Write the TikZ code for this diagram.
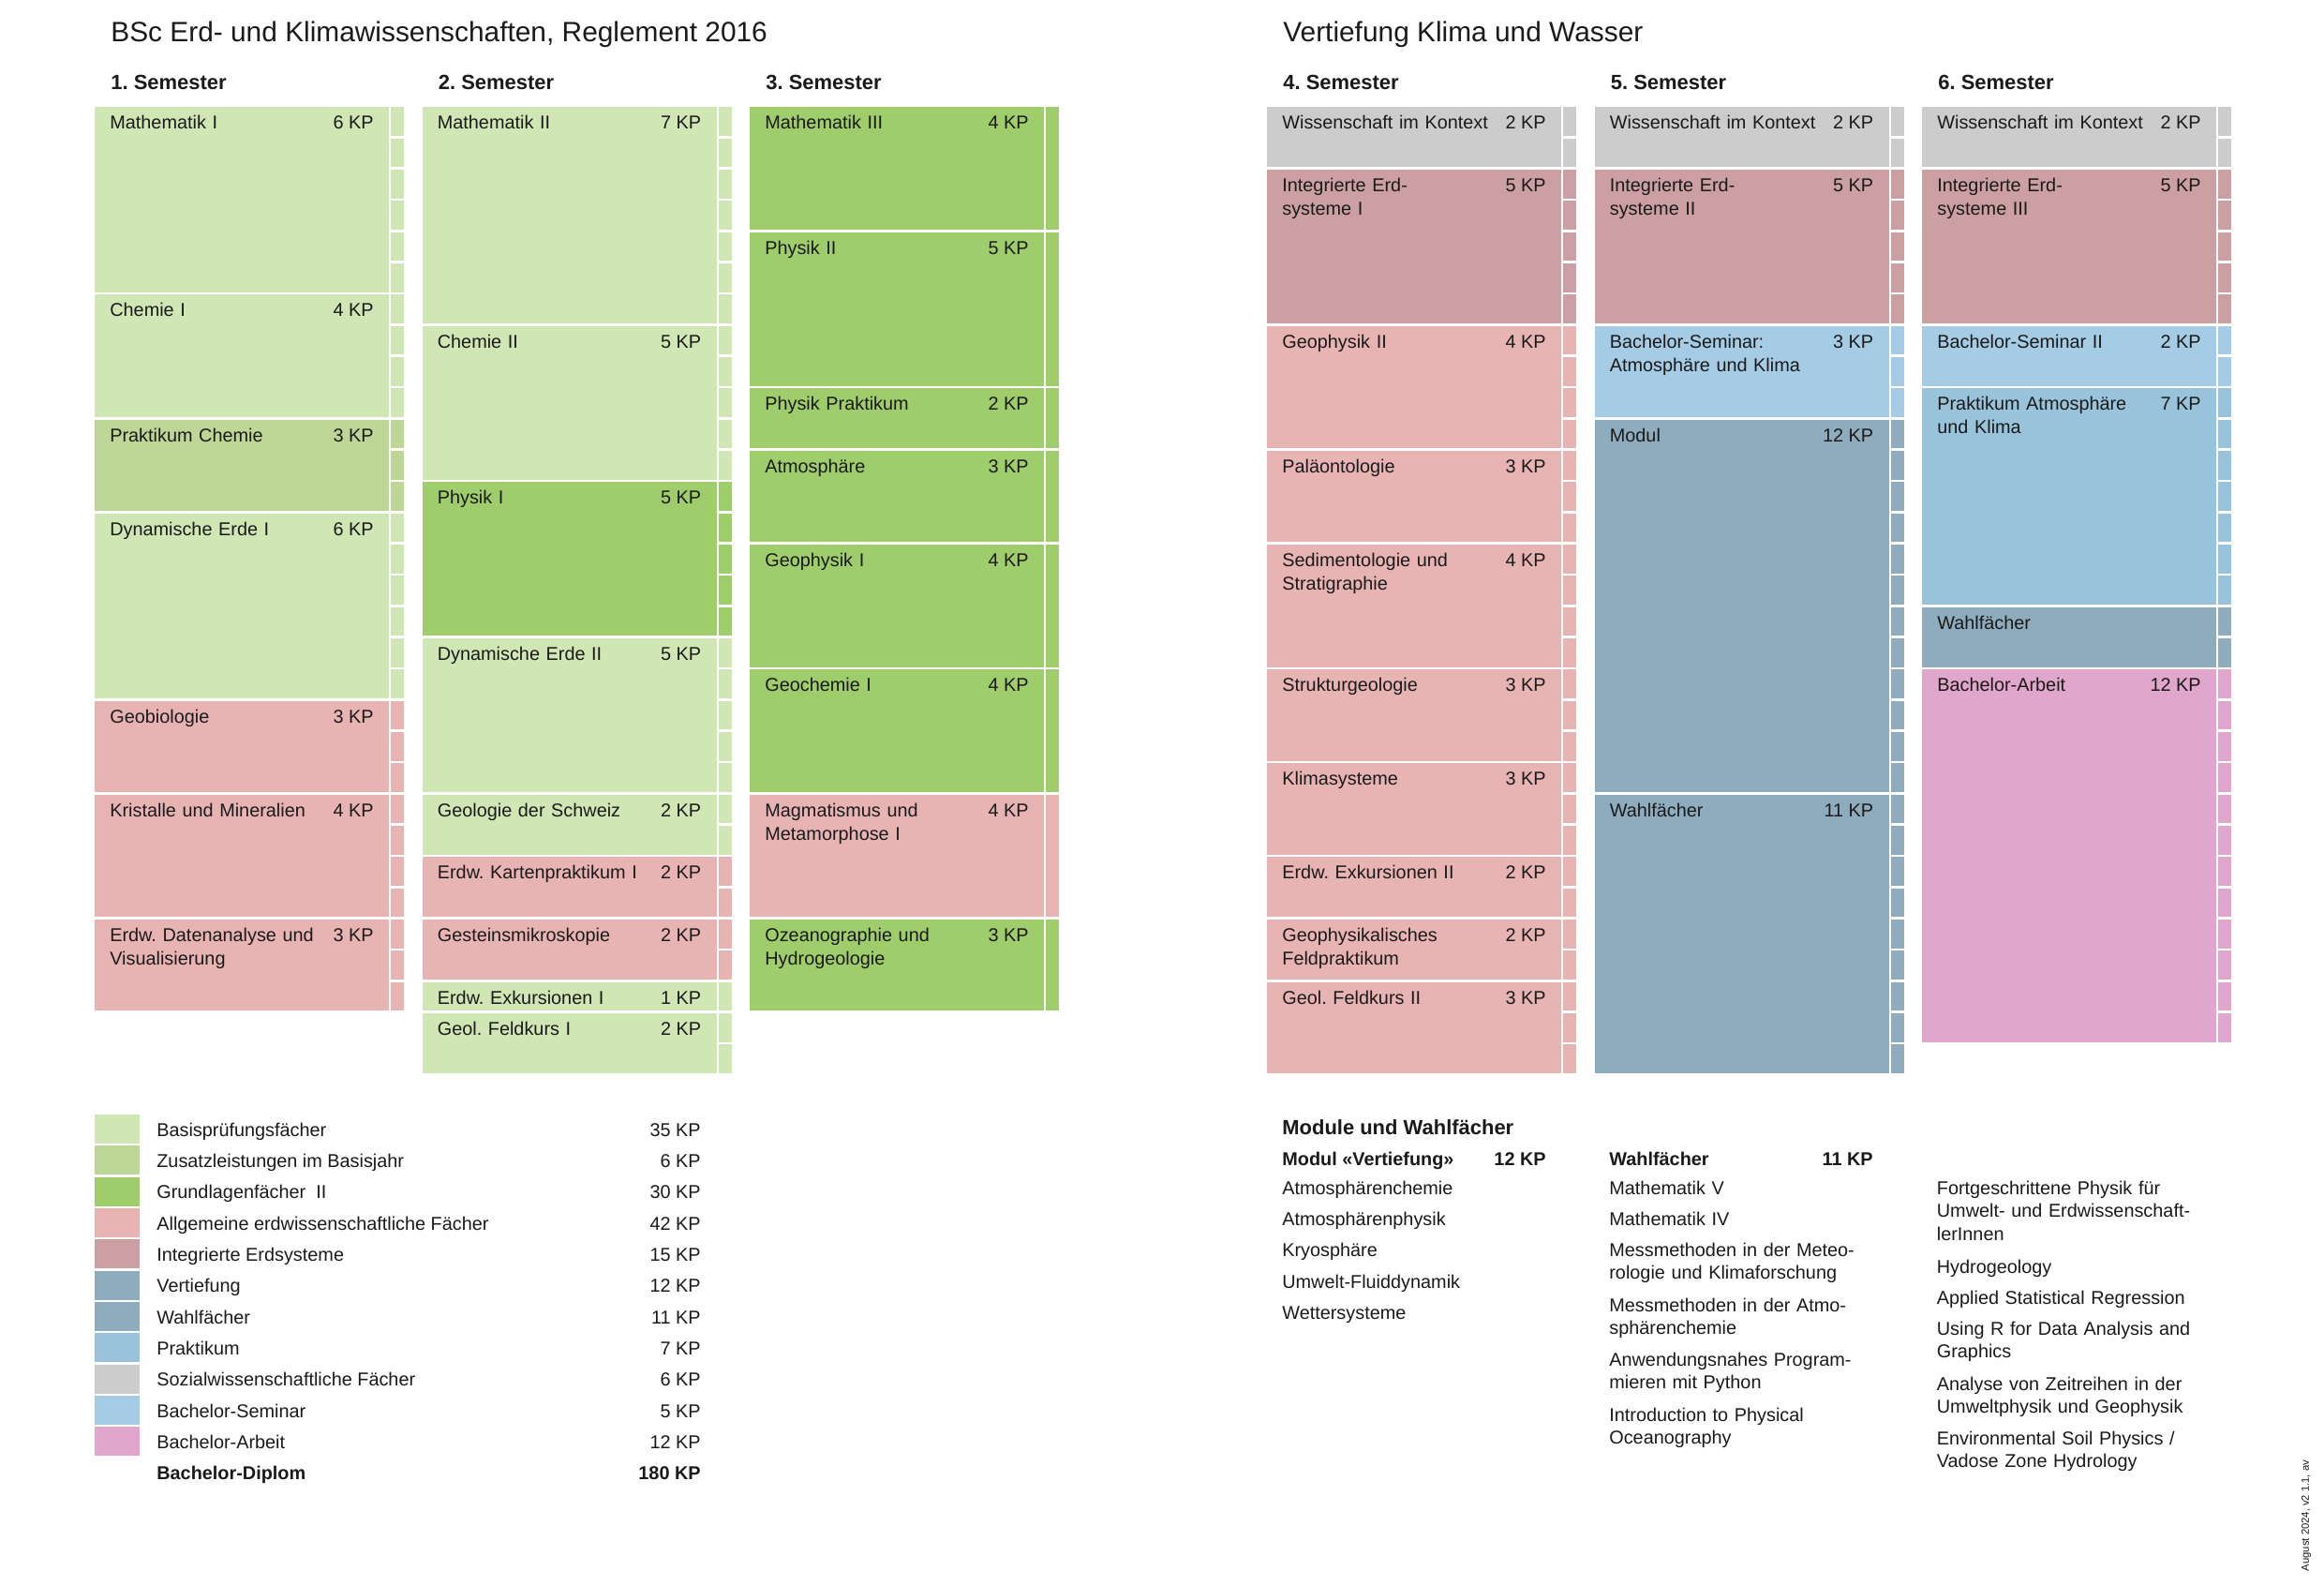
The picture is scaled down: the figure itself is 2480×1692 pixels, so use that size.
\documentclass[tikz,border=0pt]{standalone}
\usepackage{fontspec}
\setmainfont{Liberation Sans}
\definecolor{basis}{HTML}{D0E6B5}
\definecolor{zusatz}{HTML}{BDD696}
\definecolor{grund}{HTML}{A0CD6B}
\definecolor{allg}{HTML}{E8B4B3}
\definecolor{integ}{HTML}{CCA0A2}
\definecolor{vert}{HTML}{8EACBE}
\definecolor{prakt}{HTML}{99C3DA}
\definecolor{sozial}{HTML}{CCCCCC}
\definecolor{seminar}{HTML}{A6CBE4}
\definecolor{arbeit}{HTML}{E1A6CB}
\definecolor{ink}{HTML}{1A1A1A}
\newcommand{\semcol}[4]{%
  \foreach \h/\c/\lab/\kp [count=\n, remember=\yb as \yt (initially 113),
      evaluate=\h as \yb using \yt+\h*33.333] in {#4} {
    \fill[fill=\c] (#2,\yt+1.3) rectangle (#2+314,\yb-1.3);
    \node[lab,text width=5.2cm] (#1-\n) at (#2+16,\yt+25) {\lab};
    \node[kp] (#1-\n-kp) at (#2+298,\yt+25) {\kp};
    \ifnum#3=1
      \foreach \k in {1,...,\h}
        \fill[fill=\c] (#2+316,\yt+\k*33.333-32.033) rectangle (#2+330,\yt+\k*33.333-1.3);
    \else
      \fill[fill=\c] (#2+316,\yt+1.3) rectangle (#2+330,\yb-1.3);
    \fi
  }}
\begin{document}
\frenchspacing
\begin{tikzpicture}[x=0.02cm,y=-0.02cm]
  \tikzset{
    lab/.style={anchor=base west,inner sep=0pt,align=left,text=ink,
      font=\fontsize{11.3}{14.2}\selectfont},
    kp/.style={anchor=base east,inner sep=0pt,text=ink,
      font=\fontsize{11.3}{14.2}\selectfont},
    head/.style={anchor=base west,inner sep=0pt,text=ink,
      font=\fontsize{12.5}{15}\selectfont\bfseries},
    title/.style={anchor=base west,inner sep=0pt,text=ink,
      font=\fontsize{17}{20}\selectfont}
  }
  \fill[white] (0,0) rectangle (2480,1692);
  \useasboundingbox (0,0) rectangle (2480,1692);
  \node[title] (t1) at (118,45) {BSc Erd- und Klimawissenschaften, Reglement 2016};
  \node[title] (t2) at (1369,45) {Vertiefung Klima und Wasser};
  \foreach \x/\s in {101/1,450.5/2,800/3,1352/4,1701.5/5,2051/6}
    \node[head] (h\s) at (\x+17,96) {\s. Semester};

  \semcol{s1}{101}{1}{6/basis/Mathematik I/6 KP, 4/basis/Chemie I/4 KP,
    3/zusatz/Praktikum Chemie/3 KP, 6/basis/Dynamische Erde I/6 KP,
    3/allg/Geobiologie/3 KP, 4/allg/Kristalle und Mineralien/4 KP,
    3/allg/{Erdw. Datenanalyse und\\Visualisierung}/3 KP}
  \semcol{s2}{450.5}{1}{7/basis/Mathematik II/7 KP, 5/basis/Chemie II/5 KP,
    5/grund/Physik I/5 KP, 5/basis/Dynamische Erde II/5 KP,
    2/basis/Geologie der Schweiz/2 KP, 2/allg/Erdw. Kartenpraktikum I/2 KP,
    2/allg/Gesteinsmikroskopie/2 KP, 1/basis/Erdw. Exkursionen I/1 KP,
    2/basis/Geol. Feldkurs I/2 KP}
  \semcol{s3}{800}{0}{4/grund/Mathematik III/4 KP, 5/grund/Physik II/5 KP,
    2/grund/Physik Praktikum/2 KP, 3/grund/Atmosphäre/3 KP,
    4/grund/Geophysik I/4 KP, 4/grund/Geochemie I/4 KP,
    4/allg/{Magmatismus und\\Metamorphose I}/4 KP,
    3/grund/{Ozeanographie und\\Hydrogeologie}/3 KP}
  \semcol{s4}{1352}{1}{2/sozial/Wissenschaft im Kontext/2 KP,
    5/integ/{Integrierte Erd-\\systeme I}/5 KP, 4/allg/Geophysik II/4 KP,
    3/allg/Paläontologie/3 KP, 4/allg/{Sedimentologie und\\Stratigraphie}/4 KP,
    3/allg/Strukturgeologie/3 KP, 3/allg/Klimasysteme/3 KP,
    2/allg/Erdw. Exkursionen II/2 KP, 2/allg/{Geophysikalisches\\Feldpraktikum}/2 KP,
    3/allg/Geol. Feldkurs II/3 KP}
  \semcol{s5}{1701.5}{1}{2/sozial/Wissenschaft im Kontext/2 KP,
    5/integ/{Integrierte Erd-\\systeme II}/5 KP,
    3/seminar/{Bachelor-Seminar:\\Atmosphäre und Klima}/3 KP,
    12/vert/Modul/12 KP, 9/vert/Wahlfächer/11 KP}
  \semcol{s6}{2051}{1}{2/sozial/Wissenschaft im Kontext/2 KP,
    5/integ/{Integrierte Erd-\\systeme III}/5 KP, 2/seminar/Bachelor-Seminar II/2 KP,
    7/prakt/{Praktikum Atmosphäre\\und Klima}/7 KP, 2/vert/Wahlfächer/{},
    12/arbeit/Bachelor-Arbeit/12 KP}

  \foreach \c/\lab/\kp [count=\i from 0] in {basis/Basisprüfungsfächer/35,
      zusatz/Zusatzleistungen im Basisjahr/6, grund/Grundlagenfächer~~II/30,
      allg/Allgemeine erdwissenschaftliche Fächer/42, integ/Integrierte Erdsysteme/15,
      vert/Vertiefung/12, vert/Wahlfächer/11, prakt/Praktikum/7,
      sozial/Sozialwissenschaftliche Fächer/6, seminar/Bachelor-Seminar/5,
      arbeit/Bachelor-Arbeit/12} {
    \fill[fill=\c] (101,1189+\i*33.333) rectangle (149,1220+\i*33.333);
    \node[lab] (leg\i) at (167,1212+\i*33.333) {\lab};
    \node[kp] (leg\i-kp) at (748,1212+\i*33.333) {\kp~KP};
  }
  \node[lab,font=\fontsize{11.3}{14.2}\selectfont\bfseries] (dipl) at (167,1578.7) {Bachelor-Diplom};
  \node[kp,font=\fontsize{11.3}{14.2}\selectfont\bfseries] (dipl-kp) at (748,1578.7) {180 KP};

  \node[head] (mw) at (1368,1210) {Module und Wahlfächer};
  \node[lab,font=\fontsize{11.3}{14.2}\selectfont\bfseries] (mod) at (1368,1243) {Modul «Vertiefung»};
  \node[kp,font=\fontsize{11.3}{14.2}\selectfont\bfseries] (mod-kp) at (1650,1243) {12 KP};
  \node[lab,font=\fontsize{11.3}{14.2}\selectfont\bfseries] (wf) at (1717,1243) {Wahlfächer};
  \node[kp,font=\fontsize{11.3}{14.2}\selectfont\bfseries] (wf-kp) at (1999,1243) {11 KP};
  \foreach \y/\txt [count=\i] in {1274/Atmosphärenchemie, 1307/Atmosphärenphysik,
      1340/Kryosphäre, 1374/Umwelt-Fluiddynamik, 1407/Wettersysteme}
    \node[lab] (ma\i) at (1368,\y) {\txt};
  \foreach \y/\txt [count=\i] in {1274/Mathematik V, 1307/Mathematik IV,
      1340/{Messmethoden in der Meteo-\\rologie und Klimaforschung},
      1399/{Messmethoden in der Atmo-\\sphärenchemie},
      1457/{Anwendungsnahes Program-\\mieren mit Python},
      1516/{Introduction to Physical\\Oceanography}}
    \node[lab,text width=6.5cm] (mb\i) at (1717,\y) {\txt};
  \foreach \y/\txt [count=\i] in {1274/{Fortgeschrittene Physik für\\Umwelt- und Erdwissenschaft-\\lerInnen},
      1358/Hydrogeology, 1391/Applied Statistical Regression,
      1424/{Using R for Data Analysis and\\Graphics},
      1483/{Analyse von Zeitreihen in der\\Umweltphysik und Geophysik},
      1541/{Environmental Soil Physics /\\Vadose Zone Hydrology}}
    \node[lab,text width=6.5cm] (mc\i) at (2066.5,\y) {\txt};

  \node[rotate=90,inner sep=0pt,text=ink,font=\fontsize{6.4}{8}\selectfont] (stamp) at (2461,1617) {August 2024, v2 1.1, av};
\end{tikzpicture}
\end{document}
